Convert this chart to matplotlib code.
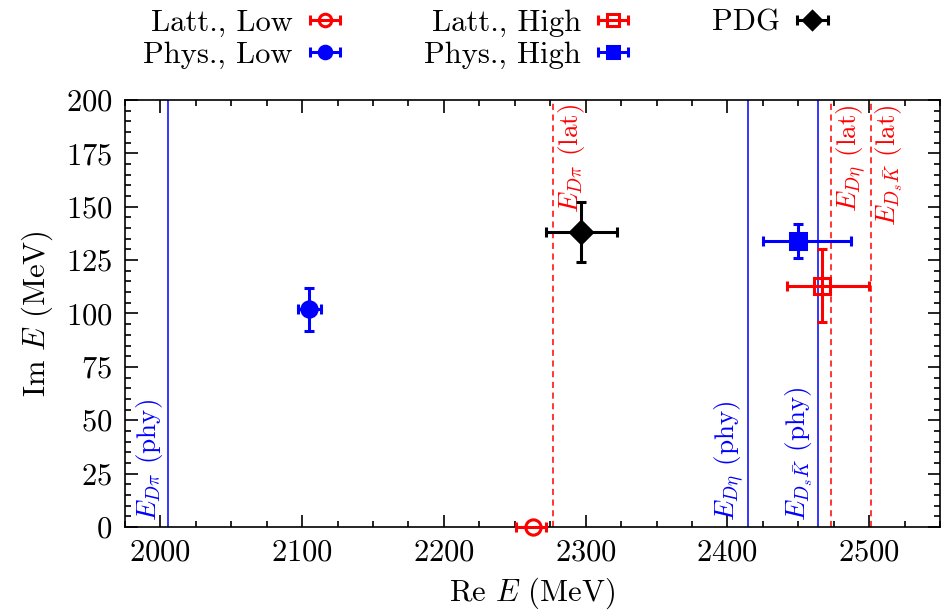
import matplotlib
matplotlib.use('Agg')
from matplotlib import pyplot as plt
from matplotlib.ticker import MultipleLocator

plt.rcParams['font.family'] = 'serif'
plt.rcParams['font.serif'] = ['cmr10', 'DejaVu Serif']
plt.rcParams['mathtext.fontset'] = 'cm'
plt.rcParams['axes.formatter.use_mathtext'] = True

# poles: (Re E, Im E, xerr low, xerr high, yerr)
latt_low = [2263, 0, 12, 9, 0]
latt_high = [2467, 113, 25, 33, 17]
phys_low = [2105, 102, 8, 8, 10]
phys_high = [2450, 134, 25, 37, 8]
pdg = [2297, 138, 25, 25, 14]

# thresholds
phy_thr = [2005, 2414.8, 2464]
phy_lab = [r'$E_{D\pi}$ (phy)', r'$E_{D\eta}$ (phy)', r'$E_{D_s\bar{K}}$ (phy)']
lat_thr = [2277, 2473, 2501]
lat_lab = [r'$E_{D\pi}$ (lat)', r'$E_{D\eta}$ (lat)', r'$E_{D_s\bar{K}}$ (lat)']

fig = plt.figure(figsize=(9.44, 6.16), dpi=100)
ax = fig.add_axes([0.1324, 0.1445, 0.8634, 0.6932])

for x, lab in zip(phy_thr, phy_lab):
    ax.axvline(x, color='blue', lw=1.1)
    ax.text(x - 2, 3, lab, rotation=90, color='blue', fontsize=19.5,
            ha='right', va='bottom')
for x, lab in zip(lat_thr, lat_lab):
    ax.axvline(x, color='red', lw=1.1, ls=(0, (4, 3)))
    ax.text(x + 2, 198, lab, rotation=90, color='red', fontsize=19.5,
            ha='left', va='top')


def pole(p, fmt, color, mfc, label):
    ax.errorbar(p[0], p[1], xerr=[[p[2]], [p[3]]], yerr=[[p[4]], [p[4]]] if p[4] else None,
                fmt=fmt, color=color, mfc=mfc, mec=color, mew=2.2, ms=11,
                elinewidth=2.2, capsize=3.5, capthick=2.2,
                clip_on=False, zorder=5)
    # legend entry: horizontal bar only
    ax.errorbar([float('nan')], [float('nan')], xerr=[1], fmt=fmt, color=color,
                mfc=mfc, mec=color, mew=2.2, ms=9, elinewidth=2.2, capsize=3.5,
                capthick=2.2, label=label)


pole(latt_low, 'o', 'red', 'none', 'Latt., Low')
pole(phys_low, 'o', 'blue', 'blue', 'Phys., Low')
pole(latt_high, 's', 'red', 'none', 'Latt., High')
pole(phys_high, 's', 'blue', 'blue', 'Phys., High')
pole(pdg, 'D', 'black', 'black', 'PDG')

ax.set_xlim(1975, 2550)
ax.set_ylim(0, 200)
ax.xaxis.set_major_locator(MultipleLocator(100))
ax.xaxis.set_minor_locator(MultipleLocator(25))
ax.yaxis.set_major_locator(MultipleLocator(25))
ax.yaxis.set_minor_locator(MultipleLocator(5))
ax.tick_params(which='both', direction='in', top=True, right=True, labelsize=22, width=1.2)
ax.tick_params(which='major', length=9, pad=9)
ax.tick_params(which='minor', length=4.5)
for s in ax.spines.values():
    s.set_linewidth(1.2)

ax.set_xlabel(r'Re $E$ (MeV)', fontsize=22, labelpad=6)
ax.set_ylabel(r'Im $E$ (MeV)', fontsize=22, labelpad=8)

fig.legend(loc='upper center', bbox_to_anchor=(0.515, 1.03), ncol=3, frameon=False,
           markerfirst=False, fontsize=22, handlelength=1.1, columnspacing=2.7,
           labelspacing=0.15, handletextpad=0.5)

plt.savefig('out.png')
plt.close()
